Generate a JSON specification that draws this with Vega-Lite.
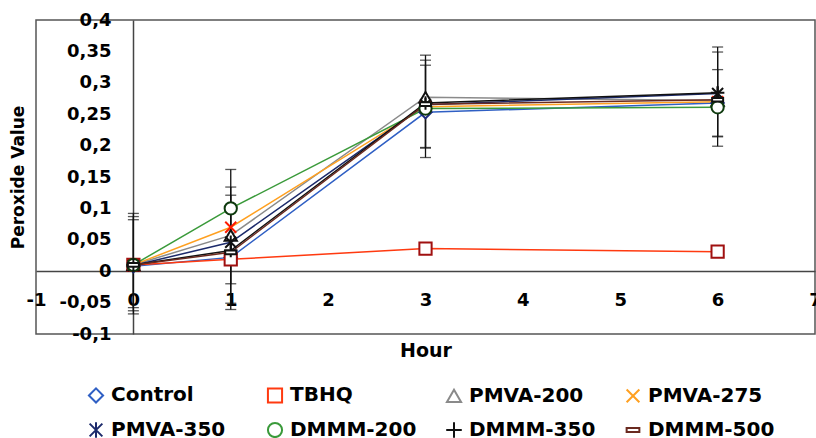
{
  "$schema": "https://vega.github.io/schema/vega-lite/v6.json",
  "width": 779,
  "height": 314,
  "autosize": "none",
  "padding": {"left": 36, "top": 20, "right": 1, "bottom": 104},
  "config": {
    "font": "DejaVu Sans",
    "view": {"stroke": "#555", "strokeWidth": 1.5},
    "axis": {"grid": false, "domainColor": "#444", "domainWidth": 1.5, "labelFont": "DejaVu Sans", "labelFontWeight": "bold", "labelFontSize": 18, "labelColor": "#000", "titleFont": "DejaVu Sans", "titleFontWeight": "bold", "titleColor": "#000"}
  },
  "datasets": {
    "pv": [
      {"series": "Control", "Hour": 0, "PV": 0.008}, {"series": "Control", "Hour": 1, "PV": 0.022}, {"series": "Control", "Hour": 3, "PV": 0.253}, {"series": "Control", "Hour": 6, "PV": 0.268},
      {"series": "TBHQ", "Hour": 0, "PV": 0.01}, {"series": "TBHQ", "Hour": 1, "PV": 0.019}, {"series": "TBHQ", "Hour": 3, "PV": 0.036}, {"series": "TBHQ", "Hour": 6, "PV": 0.031},
      {"series": "PMVA-200", "Hour": 0, "PV": 0.01}, {"series": "PMVA-200", "Hour": 1, "PV": 0.057}, {"series": "PMVA-200", "Hour": 3, "PV": 0.277}, {"series": "PMVA-200", "Hour": 6, "PV": 0.272},
      {"series": "PMVA-275", "Hour": 0, "PV": 0.01}, {"series": "PMVA-275", "Hour": 1, "PV": 0.07}, {"series": "PMVA-275", "Hour": 3, "PV": 0.262}, {"series": "PMVA-275", "Hour": 6, "PV": 0.27},
      {"series": "PMVA-350", "Hour": 0, "PV": 0.009}, {"series": "PMVA-350", "Hour": 1, "PV": 0.046}, {"series": "PMVA-350", "Hour": 3, "PV": 0.265}, {"series": "PMVA-350", "Hour": 6, "PV": 0.283},
      {"series": "DMMM-200", "Hour": 0, "PV": 0.01}, {"series": "DMMM-200", "Hour": 1, "PV": 0.1}, {"series": "DMMM-200", "Hour": 3, "PV": 0.259}, {"series": "DMMM-200", "Hour": 6, "PV": 0.261},
      {"series": "DMMM-350", "Hour": 0, "PV": 0.01}, {"series": "DMMM-350", "Hour": 1, "PV": 0.033}, {"series": "DMMM-350", "Hour": 3, "PV": 0.268}, {"series": "DMMM-350", "Hour": 6, "PV": 0.284},
      {"series": "DMMM-500", "Hour": 0, "PV": 0.01}, {"series": "DMMM-500", "Hour": 1, "PV": 0.03}, {"series": "DMMM-500", "Hour": 3, "PV": 0.266}, {"series": "DMMM-500", "Hour": 6, "PV": 0.273}
    ],
    "err": [
      {"bar": "0a", "Hour": 0, "PV": -0.068}, {"bar": "0a", "Hour": 0, "PV": 0.092},
      {"bar": "0b", "Hour": 0, "PV": -0.063}, {"bar": "0b", "Hour": 0, "PV": 0.087},
      {"bar": "0c", "Hour": 0, "PV": -0.058}, {"bar": "0c", "Hour": 0, "PV": 0.082},
      {"bar": "1a", "Hour": 1, "PV": -0.061}, {"bar": "1a", "Hour": 1, "PV": 0.162},
      {"bar": "1b", "Hour": 1, "PV": -0.051}, {"bar": "1b", "Hour": 1, "PV": 0.134},
      {"bar": "1c", "Hour": 1, "PV": -0.02}, {"bar": "1c", "Hour": 1, "PV": 0.121},
      {"bar": "3a", "Hour": 3, "PV": 0.181}, {"bar": "3a", "Hour": 3, "PV": 0.344},
      {"bar": "3b", "Hour": 3, "PV": 0.196}, {"bar": "3b", "Hour": 3, "PV": 0.336},
      {"bar": "3c", "Hour": 3, "PV": 0.197}, {"bar": "3c", "Hour": 3, "PV": 0.328},
      {"bar": "6a", "Hour": 6, "PV": 0.199}, {"bar": "6a", "Hour": 6, "PV": 0.357},
      {"bar": "6b", "Hour": 6, "PV": 0.214}, {"bar": "6b", "Hour": 6, "PV": 0.349},
      {"bar": "6c", "Hour": 6, "PV": 0.215}, {"bar": "6c", "Hour": 6, "PV": 0.321}
    ]
  },
  "encoding": {
    "x": {"field": "Hour", "type": "quantitative", "scale": {"domain": [-1, 7], "nice": false, "zero": false},
      "axis": {"values": [-1, 0, 1, 2, 3, 4, 5, 6, 7], "ticks": false, "offset": -63, "labelPadding": 20, "labelOverlap": false, "labelFlush": false, "labelExpr": "replace(format(datum.value, 'd'), '\u2212', '-')", "title": "Hour", "titleFontSize": 19, "titleX": 389.5, "titleY": 79, "titleBaseline": "middle"}},
    "y": {"field": "PV", "type": "quantitative", "scale": {"domain": [-0.1, 0.4], "nice": false, "zero": false},
      "axis": {"values": [-0.1, -0.05, 0, 0.05, 0.1, 0.15, 0.2, 0.25, 0.3, 0.35, 0.4], "ticks": false, "offset": -97, "labelPadding": 22, "labelOverlap": false, "labelFlush": false, "labelExpr": "replace(replace(format(datum.value, '.2~f'), '.', ','), '\u2212', '-')", "title": "Peroxide Value", "titleFontSize": 17, "titleX": -115, "titleY": 157, "titleBaseline": "middle"}}
  },
  "layer": [
    {
      "data": {"name": "pv"},
      "mark": {"type": "line", "strokeWidth": 1.5},
      "encoding": {
        "color": {"field": "series", "type": "nominal",
          "scale": {"domain": ["Control", "TBHQ", "PMVA-200", "PMVA-275", "PMVA-350", "DMMM-200", "DMMM-350", "DMMM-500"],
            "range": ["#2f5fc4", "#ff3a10", "#8a8a8a", "#ffa020", "#1c2a6b", "#3a9a3a", "#111111", "#6a2a20"]},
          "legend": {"title": null, "orient": "none", "legendX": 50, "legendY": 365, "direction": "horizontal", "columns": 4, "gridAlign": "all",
            "padding": 0, "columnPadding": 25, "rowPadding": 11, "symbolSize": 200, "symbolStrokeWidth": 2, "labelOffset": 5,
            "labelFont": "DejaVu Sans", "labelFontWeight": "bold", "labelFontSize": 20, "labelColor": "#000", "labelLimit": 300}}
      }
    },
    {
      "data": {"name": "err"},
      "mark": {"type": "line", "color": "#111", "strokeWidth": 1.3},
      "encoding": {"detail": {"field": "bar"}}
    },
    {
      "data": {"name": "err"},
      "mark": {"type": "tick", "orient": "horizontal", "color": "#111", "size": 11, "thickness": 1.3},
      "encoding": {}
    },
    {
      "data": {"name": "pv"},
      "mark": {"type": "point", "filled": false, "fill": "white", "fillOpacity": 1, "opacity": 1, "size": 150, "strokeWidth": 2},
      "encoding": {
        "stroke": {"field": "series", "type": "nominal", "legend": null,
          "scale": {"domain": ["Control", "TBHQ", "PMVA-200", "PMVA-275", "PMVA-350", "DMMM-200", "DMMM-350", "DMMM-500"],
            "range": ["#1c2a80", "#a01010", "#111111", "#ff1a00", "#111111", "#0e3a0e", "#111111", "#111111"]}},
        "shape": {"field": "series", "type": "nominal", "legend": null,
          "scale": {"domain": ["Control", "TBHQ", "PMVA-200", "PMVA-275", "PMVA-350", "DMMM-200", "DMMM-350", "DMMM-500"],
            "range": ["diamond", "square", "triangle-up", "M-0.9,-0.9L0.9,0.9M-0.9,0.9L0.9,-0.9", "M-0.9,-0.9L0.9,0.9M-0.9,0.9L0.9,-0.9M0,-1.1V1.1", "circle", "M-1.1,0H1.1M0,-1.1V1.1", "M-0.9,-0.3H0.9V0.3H-0.9Z"]}}
      }
    }
  ]
}
